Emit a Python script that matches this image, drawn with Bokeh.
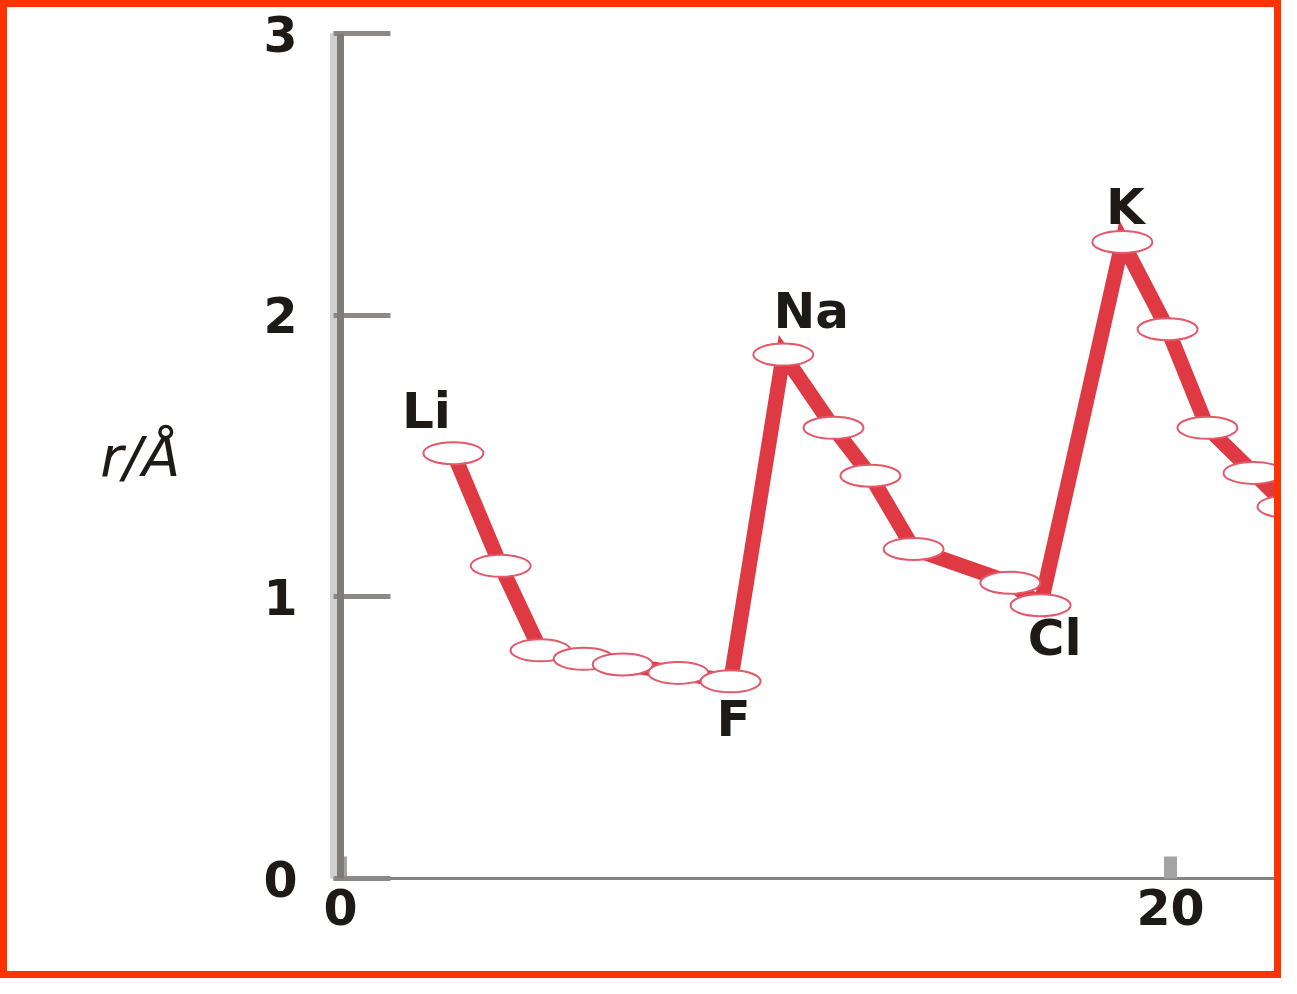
from bokeh.plotting import figure
from bokeh.models import FixedTicker, Span, Range1d, ColumnDataSource
from bokeh.core.properties import value
from bokeh.embed import file_html
from bokeh.resources import INLINE

# ---- data ----
symbols = ["Li", "Be", "B", "C", "N", "O", "F", "Na", "Mg", "Al", "Si", "P", "Cl",
           "K", "Ca", "Sc", "Ti", "V"]
atomic_pos = [2.72, 3.86, 4.82, 5.86, 6.80, 8.14, 9.40, 10.67, 11.88, 12.77, 13.81,
              16.14, 16.87, 18.84, 19.93, 20.89, 22.0, 22.82]
radius = [1.51, 1.11, 0.81, 0.78, 0.76, 0.73, 0.70, 1.86, 1.60, 1.43, 1.17, 1.05,
          0.97, 2.26, 1.95, 1.60, 1.44, 1.32]
labelled = ["Li", "F", "Na", "Cl", "K"]
y_ticks = [0, 1, 2, 3]
x_ticks = [0, 20]
y_label = "r/Å"

# ---- styles ----
label_offsets = {"Li": (-27, -42), "F": (3, 38), "Na": (28, -44), "Cl": (14, 33), "K": (3, -35)}
RED = "#DF3A44"
TXT = "#1E1A18"
FONT = "DejaVu Sans"
B = 7                      # orange frame thickness
W, H = 1281, 978
PX = 41.5                  # px per x unit

p = figure(width=W, height=H, output_backend="svg", toolbar_location=None,
           x_range=Range1d(-7 / PX, (W + B - 340) / PX), y_range=Range1d(0, 3),
           min_border_left=333 - B, min_border_right=0, min_border_top=33 - B,
           min_border_bottom=(H + B) - 878)
p.xgrid.visible = False
p.ygrid.visible = False
p.outline_line_color = None
p.background_fill_color = "white"
p.border_fill_color = "white"
p.styles = {"border": f"{B}px solid #FF3300"}

# y axis
ya = p.yaxis[0]
ya.ticker = FixedTicker(ticks=y_ticks)
ya.axis_line_color = "#D0D0D0"
ya.axis_line_width = 7
ya.major_tick_in = 57
ya.major_tick_out = 0
ya.major_tick_line_color = "#8C8886"
ya.major_tick_line_width = 5
ya.minor_tick_line_color = None
ya.major_label_text_font = FONT
ya.major_label_text_font_size = "49px"
ya.major_label_text_font_style = "bold"
ya.major_label_text_color = TXT
ya.major_label_standoff = 36
ya.axis_label = y_label
ya.axis_label_orientation = "horizontal"
ya.axis_label_text_font = FONT
ya.axis_label_text_font_size = "56px"
ya.axis_label_text_font_style = "italic"
ya.axis_label_text_color = TXT
ya.axis_label_standoff = 80

p.add_layout(Span(location=0, dimension="height", line_color="#7F7B78", line_width=7))

# x axis
xa = p.xaxis[0]
xa.ticker = FixedTicker(ticks=x_ticks)
xa.axis_line_color = "#858280"
xa.axis_line_width = 3
xa.major_tick_in = 22
xa.major_tick_out = 0
xa.major_tick_line_color = "#A3A3A3"
xa.major_tick_line_width = 13
xa.minor_tick_line_color = None
xa.major_label_text_font = FONT
xa.major_label_text_font_size = "49px"
xa.major_label_text_font_style = "bold"
xa.major_label_text_color = TXT
xa.major_label_standoff = 10

src = ColumnDataSource(dict(x=atomic_pos, y=radius, sym=symbols))
p.line("x", "y", source=src, line_color=RED, line_width=15, line_join="miter")
p.ellipse("x", "y", source=src, width=60, height=22, width_units="screen",
          height_units="screen", fill_color="white", line_color="#E4586A", line_width=2)

idx = [symbols.index(s) for s in labelled]
lab = ColumnDataSource(dict(
    x=[atomic_pos[i] for i in idx],
    y=[radius[i] for i in idx],
    t=labelled,
    dx=[label_offsets[s][0] for s in labelled],
    dy=[label_offsets[s][1] for s in labelled],
))
p.text("x", "y", text="t", source=lab, x_offset="dx", y_offset="dy",
       text_align="center", text_baseline="middle", text_font=value(FONT),
       text_font_style="bold", text_font_size="50px", text_color=TXT)

open("out.html", "w").write(file_html(p, INLINE))
